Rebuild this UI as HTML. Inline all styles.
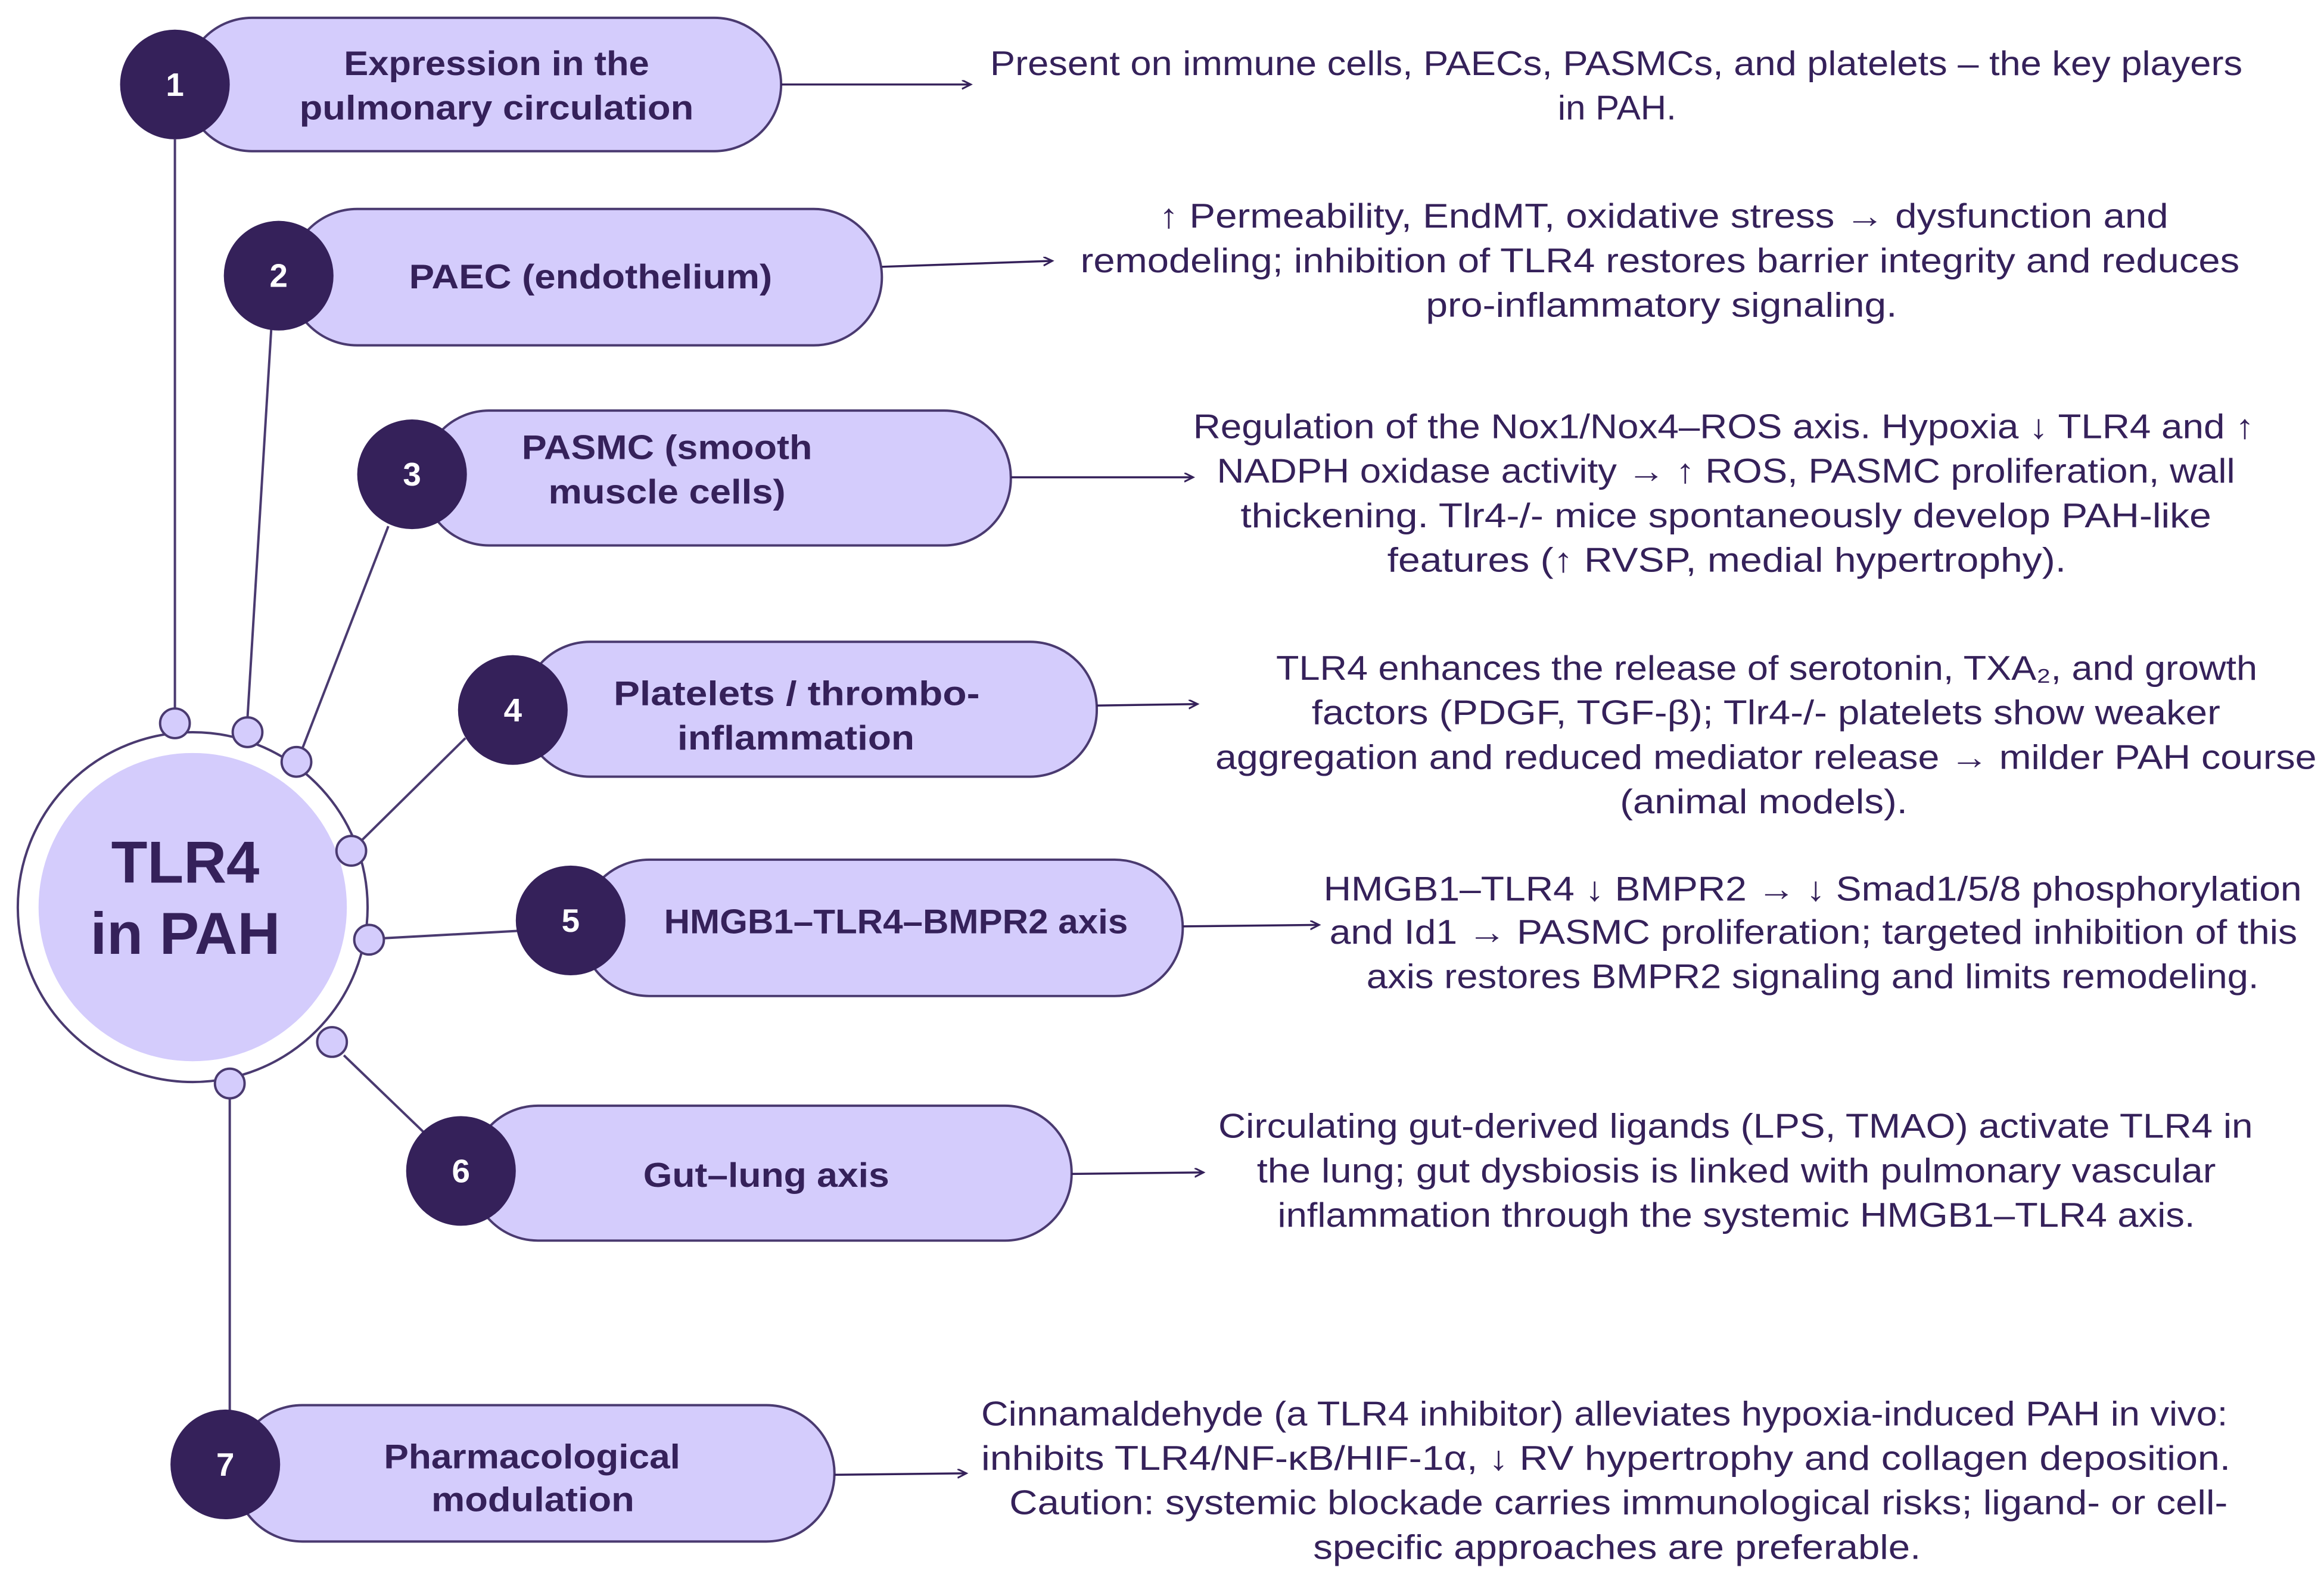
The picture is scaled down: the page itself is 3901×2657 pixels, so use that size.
<!DOCTYPE html>
<html><head><meta charset="utf-8"><style>
html,body{margin:0;padding:0;background:#fff;}
svg{display:block;}
text{font-family:"Liberation Sans",sans-serif;fill:#35215a;}
.d{font-size:23px;dominant-baseline:central;}
.l{font-size:23px;font-weight:bold;dominant-baseline:central;}
.n{font-size:22px;font-weight:bold;fill:#fff;text-anchor:middle;dominant-baseline:central;}
</style></head><body>
<svg width="3901" height="2657" viewBox="0 0 1568 1068" xmlns="http://www.w3.org/2000/svg">
<defs><marker id="a" markerWidth="8" markerHeight="8" refX="6" refY="3" orient="auto" markerUnits="userSpaceOnUse"><path d="M0,0 L6,3 L0,6" fill="none" stroke="#35215a" stroke-width="1.2"/></marker></defs>
<g stroke="#4a3a70" stroke-width="1.6" fill="none">
<line x1="118" y1="94" x2="118" y2="478"/>
<line x1="183" y1="222" x2="167" y2="484"/>
<line x1="262" y1="355" x2="204" y2="505"/>
<line x1="314" y1="498" x2="244" y2="567"/>
<line x1="350" y1="628" x2="259" y2="633"/>
<line x1="232" y1="712" x2="286" y2="764"/>
<line x1="155" y1="741" x2="155" y2="955"/>
<circle cx="130" cy="612" r="118"/>
</g>
<circle cx="130" cy="612" r="104" fill="#d4ccfc"/>
<text x="125" y="582" text-anchor="middle" dominant-baseline="central" font-size="40" font-weight="bold">TLR4</text>
<text x="125" y="630" text-anchor="middle" dominant-baseline="central" font-size="40" font-weight="bold">in PAH</text>
<g fill="#d4ccfc" stroke="#4a3a70" stroke-width="1.6">
<circle cx="118" cy="488" r="10"/><circle cx="167" cy="494" r="10"/><circle cx="200" cy="514" r="10"/>
<circle cx="237" cy="574" r="10"/><circle cx="249" cy="634" r="10"/><circle cx="224" cy="703" r="10"/><circle cx="155" cy="731" r="10"/>
</g>
<g fill="#d4ccfc" stroke="#4a3a70" stroke-width="1.6">
<rect x="125" y="12" width="402" height="90" rx="45"/>
<rect x="195" y="141" width="400" height="92" rx="46"/>
<rect x="285" y="277" width="397" height="91" rx="45"/>
<rect x="353" y="433" width="387" height="91" rx="45"/>
<rect x="392" y="580" width="406" height="92" rx="46"/>
<rect x="318" y="746" width="405" height="91" rx="45"/>
<rect x="158" y="948" width="405" height="92" rx="46"/>
</g>
<g fill="#35215a">
<circle cx="118" cy="57" r="37"/><circle cx="188" cy="186" r="37"/><circle cx="278" cy="320" r="37"/>
<circle cx="346" cy="479" r="37"/><circle cx="385" cy="621" r="37"/><circle cx="311" cy="790" r="37"/><circle cx="152" cy="988" r="37"/>
</g>
<text class="n" x="118" y="57">1</text><text class="n" x="188" y="186">2</text><text class="n" x="278" y="320">3</text>
<text class="n" x="346" y="479">4</text><text class="n" x="385" y="621">5</text><text class="n" x="311" y="790">6</text><text class="n" x="152" y="988">7</text>
<g stroke="#35215a" stroke-width="1.4" marker-end="url(#a)">
<line x1="527" y1="57" x2="655" y2="57"/>
<line x1="595" y1="180" x2="710" y2="176"/>
<line x1="682" y1="322" x2="805" y2="322"/>
<line x1="740" y1="476" x2="808" y2="475"/>
<line x1="798" y1="625" x2="890" y2="624"/>
<line x1="723" y1="792" x2="812" y2="791"/>
<line x1="563" y1="995" x2="652" y2="994"/>
</g>
<g lengthAdjust="spacingAndGlyphs">
<text class="l" x="232" y="43" textLength="206" lengthAdjust="spacingAndGlyphs">Expression in the</text>
<text class="l" x="202" y="73" textLength="266" lengthAdjust="spacingAndGlyphs">pulmonary circulation</text>
<text class="l" x="276" y="187" textLength="245" lengthAdjust="spacingAndGlyphs">PAEC (endothelium)</text>
<text class="l" x="352" y="302" textLength="196" lengthAdjust="spacingAndGlyphs">PASMC (smooth</text>
<text class="l" x="370" y="332" textLength="160" lengthAdjust="spacingAndGlyphs">muscle cells)</text>
<text class="l" x="414" y="468" textLength="247" lengthAdjust="spacingAndGlyphs">Platelets / thrombo-</text>
<text class="l" x="457" y="498" textLength="160" lengthAdjust="spacingAndGlyphs">inflammation</text>
<text class="l" x="448" y="622" textLength="313" lengthAdjust="spacingAndGlyphs">HMGB1–TLR4–BMPR2 axis</text>
<text class="l" x="434" y="793" textLength="166" lengthAdjust="spacingAndGlyphs">Gut–lung axis</text>
<text class="l" x="259" y="983" textLength="200" lengthAdjust="spacingAndGlyphs">Pharmacological</text>
<text class="l" x="291" y="1012" textLength="137" lengthAdjust="spacingAndGlyphs">modulation</text>

<text class="d" x="668" y="43" textLength="845" lengthAdjust="spacingAndGlyphs">Present on immune cells, PAECs, PASMCs, and platelets – the key players</text>
<text class="d" x="1051" y="73" textLength="80" lengthAdjust="spacingAndGlyphs">in PAH.</text>

<text class="d" x="782" y="146" textLength="681" lengthAdjust="spacingAndGlyphs">↑ Permeability, EndMT, oxidative stress → dysfunction and</text>
<text class="d" x="729" y="176" textLength="782" lengthAdjust="spacingAndGlyphs">remodeling; inhibition of TLR4 restores barrier integrity and reduces</text>
<text class="d" x="962" y="206" textLength="318" lengthAdjust="spacingAndGlyphs">pro-inflammatory signaling.</text>

<text class="d" x="805" y="288" textLength="716" lengthAdjust="spacingAndGlyphs">Regulation of the Nox1/Nox4–ROS axis. Hypoxia ↓ TLR4 and ↑</text>
<text class="d" x="821" y="318" textLength="687" lengthAdjust="spacingAndGlyphs">NADPH oxidase activity → ↑ ROS, PASMC proliferation, wall</text>
<text class="d" x="837" y="348" textLength="655" lengthAdjust="spacingAndGlyphs">thickening. Tlr4-/- mice spontaneously develop PAH-like</text>
<text class="d" x="936" y="378" textLength="458" lengthAdjust="spacingAndGlyphs">features (↑ RVSP, medial hypertrophy).</text>

<text class="d" x="861" y="451" textLength="662" lengthAdjust="spacingAndGlyphs">TLR4 enhances the release of serotonin, TXA₂, and growth</text>
<text class="d" x="885" y="481" textLength="613" lengthAdjust="spacingAndGlyphs">factors (PDGF, TGF-β); Tlr4-/- platelets show weaker</text>
<text class="d" x="820" y="511" textLength="743" lengthAdjust="spacingAndGlyphs">aggregation and reduced mediator release → milder PAH course</text>
<text class="d" x="1093" y="541" textLength="194" lengthAdjust="spacingAndGlyphs">(animal models).</text>

<text class="d" x="893" y="600" textLength="660" lengthAdjust="spacingAndGlyphs">HMGB1–TLR4 ↓ BMPR2 → ↓ Smad1/5/8 phosphorylation</text>
<text class="d" x="897" y="629" textLength="653" lengthAdjust="spacingAndGlyphs">and Id1 → PASMC proliferation; targeted inhibition of this</text>
<text class="d" x="922" y="659" textLength="602" lengthAdjust="spacingAndGlyphs">axis restores BMPR2 signaling and limits remodeling.</text>

<text class="d" x="822" y="760" textLength="698" lengthAdjust="spacingAndGlyphs">Circulating gut-derived ligands (LPS, TMAO) activate TLR4 in</text>
<text class="d" x="848" y="790" textLength="647" lengthAdjust="spacingAndGlyphs">the lung; gut dysbiosis is linked with pulmonary vascular</text>
<text class="d" x="862" y="820" textLength="619" lengthAdjust="spacingAndGlyphs">inflammation through the systemic HMGB1–TLR4 axis.</text>

<text class="d" x="662" y="954" textLength="841" lengthAdjust="spacingAndGlyphs">Cinnamaldehyde (a TLR4 inhibitor) alleviates hypoxia-induced PAH in vivo:</text>
<text class="d" x="662" y="984" textLength="843" lengthAdjust="spacingAndGlyphs">inhibits TLR4/NF-κB/HIF-1α, ↓ RV hypertrophy and collagen deposition.</text>
<text class="d" x="681" y="1014" textLength="822" lengthAdjust="spacingAndGlyphs">Caution: systemic blockade carries immunological risks; ligand- or cell-</text>
<text class="d" x="886" y="1044" textLength="410" lengthAdjust="spacingAndGlyphs">specific approaches are preferable.</text>
</g>
</svg>
</body></html>
